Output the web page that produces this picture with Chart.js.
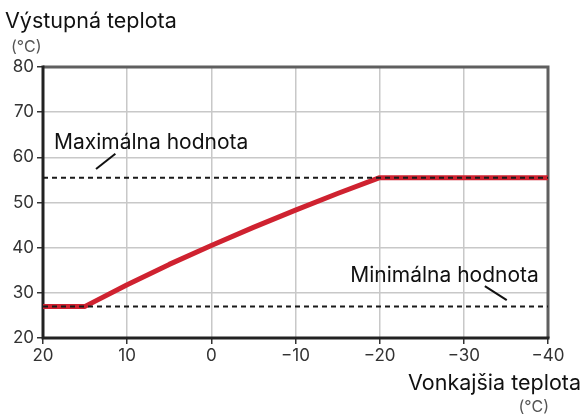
<!DOCTYPE html>
<html lang="sk">
<head>
<meta charset="UTF-8">
<title>Výstupná teplota</title>
<script src="https://cdn.jsdelivr.net/npm/chart.js"></script>
<style>
  body { margin: 0; background: #fff; }
  canvas { display: block; }
</style>
</head>
<body>
<canvas id="curveChart" width="584" height="414"></canvas>
<script>
// heating curve: outdoor temperature -> flow temperature (°C)
let outdoorTemps = [20, 15, 10, 5, 0, -5, -10, -15, -20, -40];
let flowTemps = [27, 27, 31.8, 36.3, 40.5, 44.5, 48.3, 52, 55.5, 55.5];
let maxFlow = 55.5;
let minFlow = 27;
let xTicks = [20, 10, 0, -10, -20, -30, -40];
let yTicks = [20, 30, 40, 50, 60, 70, 80];

// captions for the two limit lines, placed in data units
let maxLabel = { text: 'Maximálna hodnota', x: 18.7, y: 63.2, from: [13.7, 57.4], to: [11.4, 60.8] };
let minLabel = { text: 'Minimálna hodnota', x: -16.5, y: 33.8, from: [-32.5, 31.5], to: [-35.1, 28.4] };

const FONT = 'Inter, "Noto Sans", sans-serif';
Chart.defaults.font.family = FONT;
Chart.defaults.color = '#333';

function limitLine(v) {
    return [{ x: xTicks[0], y: v }, { x: xTicks[xTicks.length - 1], y: v }];
}

const decorations = {
    id: 'decorations',
    beforeDatasetsDraw(chart) {
        const { ctx, chartArea: a } = chart;
        ctx.save();
        ctx.lineWidth = 3;
        ctx.strokeStyle = '#5f5f5f';
        ctx.beginPath();
        ctx.moveTo(a.left, a.top);
        ctx.lineTo(a.right, a.top);
        ctx.lineTo(a.right, a.bottom);
        ctx.stroke();
        ctx.strokeStyle = '#222';
        ctx.beginPath();
        ctx.moveTo(a.left, a.top - 1.5);
        ctx.lineTo(a.left, a.bottom);
        ctx.lineTo(a.right + 1.5, a.bottom);
        ctx.stroke();
        ctx.restore();
    },
    afterDraw(chart) {
        const { ctx, chartArea: a } = chart;
        const xs = chart.scales.x, ys = chart.scales.y;
        ctx.save();
        ctx.fillStyle = '#111';
        ctx.textBaseline = 'middle';
        ctx.font = '21px ' + FONT;
        [maxLabel, minLabel].forEach(l => {
            ctx.textAlign = 'left';
            ctx.fillText(l.text, xs.getPixelForValue(l.x), ys.getPixelForValue(l.y));
            ctx.strokeStyle = '#111';
            ctx.lineWidth = 2;
            ctx.beginPath();
            ctx.moveTo(xs.getPixelForValue(l.from[0]), ys.getPixelForValue(l.from[1]));
            ctx.lineTo(xs.getPixelForValue(l.to[0]), ys.getPixelForValue(l.to[1]));
            ctx.stroke();
        });

        // axis titles
        ctx.textBaseline = 'alphabetic';
        ctx.textAlign = 'left';
        ctx.font = '21.5px ' + FONT;
        ctx.fillText('Výstupná teplota', 5, 28);
        ctx.fillStyle = '#555';
        ctx.font = '16px ' + FONT;
        ctx.fillText('(°C)', 11, 52);
        ctx.fillStyle = '#111';
        ctx.textAlign = 'right';
        ctx.font = '21.5px ' + FONT;
        ctx.fillText('Vonkajšia teplota', 581, 390);
        ctx.fillStyle = '#555';
        ctx.font = '16px ' + FONT;
        ctx.fillText('(°C)', a.right + 1, 412);
        ctx.restore();
    }
};

new Chart(document.getElementById('curveChart'), {
    type: 'line',
    data: {
        datasets: [
            {
                data: limitLine(maxFlow),
                borderColor: '#1a1a1a',
                borderWidth: 2,
                borderDash: [5, 4],
                pointRadius: 0
            },
            {
                data: limitLine(minFlow),
                borderColor: '#1a1a1a',
                borderWidth: 2,
                borderDash: [5, 4],
                pointRadius: 0
            },
            {
                data: outdoorTemps.map((t, i) => ({ x: t, y: flowTemps[i] })),
                borderColor: '#cf2230',
                borderWidth: 5,
                pointRadius: 0,
                borderJoinStyle: 'round',
                tension: 0
            }
        ]
    },
    options: {
        responsive: false,
        animation: false,
        layout: { padding: { left: 0, right: 36, top: 67, bottom: 46 } },
        plugins: { legend: { display: false }, tooltip: { enabled: false } },
        scales: {
            x: {
                type: 'linear',
                reverse: true,
                min: -40,
                max: 20,
                afterFit: s => { s.height = 30; },
                afterBuildTicks: s => { s.ticks = xTicks.map(v => ({ value: v })); },
                grid: { color: '#c8c8c8', lineWidth: 1.5, tickLength: 6, tickColor: '#333' },
                border: { display: false },
                ticks: {
                    padding: 2,
                    font: { size: 17 },
                    color: '#333',
                    maxRotation: 0,
                    callback: v => String(v).replace('-', '−')
                }
            },
            y: {
                min: 20,
                max: 80,
                afterFit: s => { s.width = 43; },
                afterBuildTicks: s => { s.ticks = yTicks.map(v => ({ value: v })); },
                grid: { color: '#c8c8c8', lineWidth: 1.5, tickLength: 6, tickColor: '#333' },
                border: { display: false },
                ticks: { padding: 3, font: { size: 17 }, color: '#333' }
            }
        }
    },
    plugins: [decorations]
});
</script>
</body>
</html>
